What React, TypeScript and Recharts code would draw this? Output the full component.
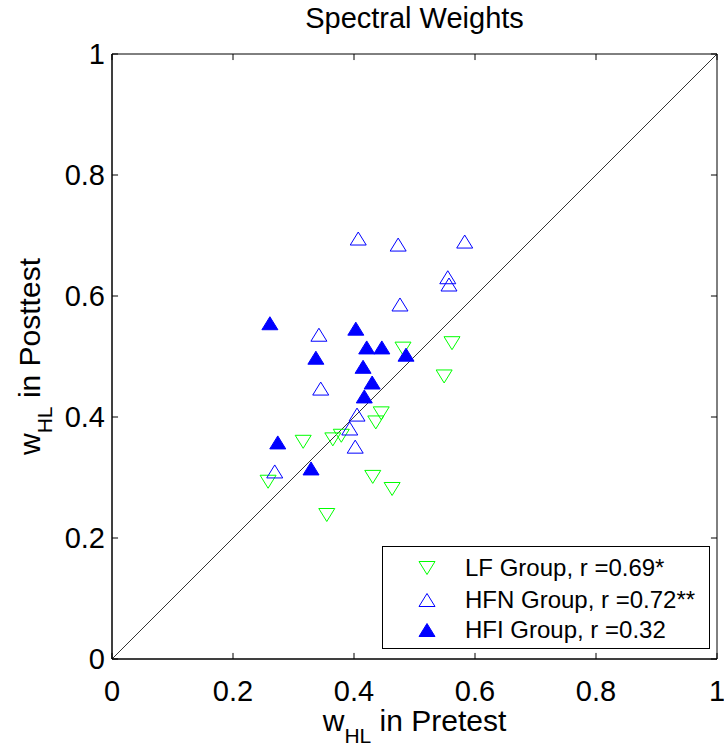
import React from "react";
import {
  ScatterChart,
  Scatter,
  XAxis,
  YAxis,
  ReferenceLine,
  ReferenceArea,
} from "recharts";

const axisTicks = [0, 0.2, 0.4, 0.6, 0.8, 1];

// w_HL per listener, pretest vs posttest
const lfPretest = [0.481, 0.562, 0.549, 0.445, 0.436, 0.316, 0.365, 0.379, 0.258, 0.431, 0.463, 0.355];
const lfPosttest = [0.513, 0.522, 0.467, 0.406, 0.391, 0.359, 0.363, 0.369, 0.293, 0.301, 0.281, 0.238];

const hfnPretest = [0.407, 0.473, 0.583, 0.555, 0.557, 0.476, 0.342, 0.345, 0.405, 0.393, 0.402, 0.269];
const hfnPosttest = [0.695, 0.685, 0.69, 0.631, 0.619, 0.586, 0.536, 0.447, 0.404, 0.381, 0.351, 0.31];

const hfiPretest = [0.261, 0.403, 0.421, 0.446, 0.486, 0.337, 0.415, 0.43, 0.417, 0.274, 0.329];
const hfiPosttest = [0.555, 0.546, 0.515, 0.515, 0.503, 0.498, 0.483, 0.457, 0.434, 0.358, 0.315];

const legendLabels = ["LF Group, r =0.69*", "HFN Group, r =0.72**", "HFI Group, r =0.32"];

const FONT = '"Liberation Sans", Arial, Helvetica, sans-serif';
const GREEN = "#00FF00";
const BLUE = "#0000FF";
const TICK_LEN = 0.01; // inward tick length, in axis units

const toPoints = (pre: number[], post: number[]) =>
  pre.map((x, i) => ({ x, y: post[i] }));

const lfData = toPoints(lfPretest, lfPosttest);
const hfnData = toPoints(hfnPretest, hfnPosttest);
const hfiData = toPoints(hfiPretest, hfiPosttest);

function trianglePath(cx: number, cy: number, up: boolean, w = 16, h = 13) {
  const hw = w / 2;
  const hh = h / 2;
  return up
    ? `M${cx - hw},${cy + hh}L${cx + hw},${cy + hh}L${cx},${cy - hh}Z`
    : `M${cx - hw},${cy - hh}L${cx + hw},${cy - hh}L${cx},${cy + hh}Z`;
}

const DownOpen = (p: any) => (
  <path d={trianglePath(p.cx, p.cy, false)} fill="none" stroke={GREEN} strokeWidth={1} />
);
const UpOpen = (p: any) => (
  <path d={trianglePath(p.cx, p.cy, true)} fill="none" stroke={BLUE} strokeWidth={1} />
);
const UpFilled = (p: any) => (
  <path d={trianglePath(p.cx, p.cy, true)} fill={BLUE} stroke={BLUE} strokeWidth={1} />
);

const XLabel = ({ viewBox }: any) => (
  <text
    x={viewBox.x + viewBox.width / 2}
    y={viewBox.y + 72}
    textAnchor="middle"
    fontSize={30}
    fontFamily={FONT}
    fill="#000"
  >
    w
    <tspan fontSize={21} dy={12}>HL</tspan>
    <tspan dy={-12}> in Pretest</tspan>
  </text>
);

const YLabel = ({ viewBox }: any) => (
  <text
    transform={`translate(${viewBox.x - 12},${viewBox.y + viewBox.height / 2}) rotate(-90)`}
    x={0}
    y={0}
    textAnchor="middle"
    fontSize={30}
    fontFamily={FONT}
    fill="#000"
  >
    w
    <tspan fontSize={21} dy={12}>HL</tspan>
    <tspan dy={-12}> in Posttest</tspan>
  </text>
);

// box ticks on all four sides, pointing inward
const tickSegments = axisTicks.flatMap((t) => [
  [{ x: t, y: 0 }, { x: t, y: TICK_LEN }],
  [{ x: t, y: 1 }, { x: t, y: 1 - TICK_LEN }],
  [{ x: 0, y: t }, { x: TICK_LEN, y: t }],
  [{ x: 1, y: t }, { x: 1 - TICK_LEN, y: t }],
]);

const legendMarkers = [
  <path key="lf" d={trianglePath(10, 8, false)} fill="none" stroke={GREEN} />,
  <path key="hfn" d={trianglePath(10, 8, true)} fill="none" stroke={BLUE} />,
  <path key="hfi" d={trianglePath(10, 8, true)} fill={BLUE} stroke={BLUE} />,
];

const rowTops = [7, 39, 69];

export default function App() {
  const tickStyle = { fontSize: 29, fill: "#000", fontFamily: FONT };
  return (
    <div
      style={{
        position: "absolute",
        left: 0,
        top: 0,
        width: 724,
        height: 748,
        background: "#fff",
      }}
    >
      <div
        style={{
          position: "absolute",
          left: 112,
          top: 4,
          width: 605,
          textAlign: "center",
          fontFamily: FONT,
          fontSize: 29,
          lineHeight: "29px",
          color: "#000",
        }}
      >
        Spectral Weights
      </div>
      <ScatterChart
        width={724}
        height={748}
        margin={{ top: 54, right: 7, bottom: 59, left: 52 }}
      >
        <XAxis
          type="number"
          dataKey="x"
          domain={[0, 1]}
          ticks={axisTicks}
          interval={0}
          allowDataOverflow
          height={30}
          tickLine={false}
          tickMargin={15}
          stroke="#000"
          tick={tickStyle}
          label={{ content: XLabel }}
        />
        <YAxis
          type="number"
          dataKey="y"
          domain={[0, 1]}
          ticks={axisTicks}
          interval={0}
          allowDataOverflow
          width={60}
          tickLine={false}
          tickMargin={1}
          stroke="#000"
          tick={tickStyle}
          label={{ content: YLabel }}
        />
        <ReferenceArea
          x1={0}
          x2={1}
          y1={0}
          y2={1}
          fill="none"
          fillOpacity={0}
          stroke="#000"
          strokeWidth={1}
          strokeOpacity={1}
        />
        {tickSegments.map((seg, i) => (
          <ReferenceLine key={i} segment={seg} stroke="#000" strokeWidth={1} />
        ))}
        <Scatter data={lfData} shape={DownOpen} isAnimationActive={false} />
        <Scatter data={hfnData} shape={UpOpen} isAnimationActive={false} />
        <Scatter data={hfiData} shape={UpFilled} isAnimationActive={false} />
        <ReferenceLine
          segment={[
            { x: 0, y: 0 },
            { x: 1, y: 1 },
          ]}
          stroke="#000"
          strokeWidth={0.8}
        />
      </ScatterChart>

      <div
        style={{
          position: "absolute",
          left: 382,
          top: 546,
          width: 328,
          height: 103,
          boxSizing: "border-box",
          border: "1px solid #000",
          background: "#fff",
          fontFamily: FONT,
          fontSize: 24,
          color: "#000",
        }}
      >
        {legendLabels.map((label, i) => (
          <div
            key={label}
            style={{
              position: "absolute",
              left: 0,
              top: rowTops[i],
              height: 28,
              width: "100%",
            }}
          >
            <svg
              width={20}
              height={16}
              style={{ position: "absolute", left: 34, top: 6 }}
            >
              {legendMarkers[i]}
            </svg>
            <span
              style={{
                position: "absolute",
                left: 82,
                top: 0,
                lineHeight: "28px",
                whiteSpace: "pre",
              }}
            >
              {label}
            </span>
          </div>
        ))}
      </div>
    </div>
  );
}
